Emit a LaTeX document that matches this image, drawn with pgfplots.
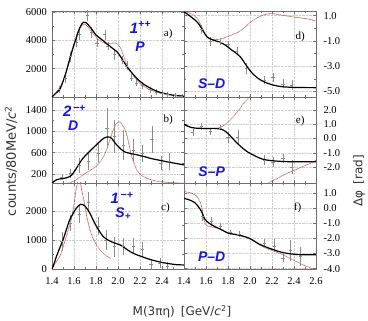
\documentclass[border=0pt]{standalone}
\usepackage{fontspec}
\setmainfont{Liberation Serif}
\newfontfamily\labfont{DejaVu Sans}
\newfontfamily\wavfont{Liberation Sans}
\usepackage{pgfplots}
\pgfplotsset{compat=1.18}
\definecolor{FitRed}{RGB}{195,95,95}
\definecolor{ErrGray}{RGB}{140,140,140}
\definecolor{FrameGray}{RGB}{110,110,110}
\definecolor{GridGray}{RGB}{205,205,205}
\definecolor{WaveBlue}{RGB}{20,20,235}

\newcommand\wav[1]{{\color{WaveBlue}\wavfont\bfseries\itshape #1}}

\pgfplotsset{
  panel/.style={
    scale only axis, width=132pt, height=86pt,
    xmin=1.4, xmax=2.6,
    xtick={1.4,1.6,1.8,2.0,2.2,2.4,2.6},
    xticklabels={},
    minor x tick num=1,
    tick align=inside,
    xtick pos=both, ytick pos=both,
    grid=major,
    major grid style={GridGray, densely dotted, line width=0.4pt},
    axis line style={FrameGray, line width=0.5pt},
    tick style={FrameGray, line width=0.4pt},
    major tick length=3pt, minor tick length=1.8pt,
    tick label style={font=\fontsize{10.5}{12}\selectfont},
    xticklabel style={yshift=-5pt},
    scaled ticks=false,
  },
  leftpanel/.style={panel, yticklabel style={xshift=-1.5pt}},
  rightpanel/.style={panel, yticklabel pos=right, ytick pos=both,
    yticklabel style={xshift=4pt}},
  fit/.style={black, line width=1.2pt, smooth},
  wave/.style={FitRed, line width=0.9pt, line cap=round,
    dash pattern=on 0.3pt off 1.1pt, smooth},
  dat/.style={ErrGray, only marks, mark=-, mark size=1.6pt,
    error bars/.cd, y dir=both, y explicit,
    error bar style={ErrGray, line width=0.5pt},
    error mark options={ErrGray, mark size=1.5pt, line width=0.5pt}},
}

\begin{document}
\begin{tikzpicture}
\path[use as bounding box] (0,0) rectangle (368pt,321pt);

% ---------- a) 1++ P
\begin{axis}[leftpanel, at={(52pt,224pt)}, anchor=south west,
  ymin=0, ymax=6070, ytick={2000,4000,6000}, yticklabels={2000,4000,6000},
  minor y tick num=1]
\addplot[wave] coordinates {
 (1.40,0)(1.45,450)(1.50,1100)(1.55,2300)(1.60,3700)(1.63,4500)(1.66,4950)
 (1.69,5150)(1.72,5000)(1.76,4600)(1.80,4250)(1.85,3900)(1.90,3750)(1.94,3800)
 (1.97,3820)(2.00,3720)(2.02,3500)(2.04,3150)(2.06,2700)(2.08,2300)(2.10,2000)
 (2.15,1400)(2.20,950)(2.25,680)(2.30,480)(2.40,250)(2.50,130)(2.60,60)};
\addplot[dat] table[y error index=2] {
1.47 550 150
1.52 1300 200
1.57 2850 250
1.62 3900 300
1.65 4400 300
1.72 5750 250
1.76 4550 250
1.81 3800 200
1.88 4400 250
1.91 3600 200
1.97 3000 250
2.04 2600 200
2.08 2200 200
2.12 1350 150
2.17 1000 150
2.22 800 120
2.29 520 100
2.35 350 100
2.40 300 80
2.45 200 80
2.52 150 60
2.58 80 50
};
\addplot[fit] coordinates {
 (1.40,0)(1.44,300)(1.47,520)(1.50,1100)(1.53,1800)(1.56,2650)(1.59,3460)
 (1.62,4150)(1.64,4640)(1.66,5000)(1.685,5280)(1.71,5250)(1.74,5000)(1.775,4640)
 (1.80,4380)(1.835,4160)(1.87,3950)(1.90,3740)(1.94,3500)(1.97,3320)(1.99,3200)
 (2.01,3000)(2.04,2650)(2.08,2160)(2.11,1850)(2.14,1580)(2.17,1330)(2.20,1100)
 (2.25,820)(2.29,640)(2.34,450)(2.38,330)(2.43,230)(2.47,165)(2.53,100)(2.60,50)};
\node[font=\fontsize{15}{15}\selectfont] at (rel axis cs:0.67,0.81) {\wav{1\textsuperscript{++}}};
\node[font=\fontsize{14}{14}\selectfont] at (rel axis cs:0.667,0.58) {\wav{P}};
\node[font=\fontsize{11}{12}\selectfont] at (rel axis cs:0.88,0.74) {a)};
\end{axis}

% ---------- b) 2-+ D
\begin{axis}[leftpanel, at={(52pt,138pt)}, anchor=south west,
  ymin=30, ymax=1645, ytick={200,600,1000,1400}, yticklabels={200,600,1000,1400},
  minor y tick num=1]
\addplot[wave] coordinates {
 (1.40,10)(1.50,18)(1.56,30)(1.62,90)(1.68,180)(1.74,260)(1.80,340)(1.85,460)
 (1.89,620)(1.92,800)(1.95,990)(1.98,1130)(2.01,1180)(2.03,1150)(2.06,1050)
 (2.08,930)(2.10,760)(2.12,560)(2.15,380)(2.17,275)(2.21,180)(2.26,120)
 (2.32,80)(2.38,55)(2.50,35)(2.60,25)};
\addplot[dat] table[y error index=2] {
1.49 140 30
1.57 210 60
1.65 360 120
1.73 430 130
1.82 590 150
1.90 1060 350
1.97 900 280
2.05 740 250
2.14 650 170
2.22 590 130
2.31 850 230
2.39 400 100
2.47 430 130
};
\addplot[fit] coordinates {
 (1.40,30)(1.44,90)(1.50,115)(1.53,125)(1.56,150)(1.58,180)(1.62,300)(1.65,400)
 (1.68,490)(1.72,580)(1.77,680)(1.82,780)(1.87,870)(1.90,895)(1.93,890)(1.95,850)
 (1.97,790)(2.00,720)(2.03,660)(2.06,615)(2.10,590)(2.17,560)(2.25,520)(2.30,490)
 (2.37,460)(2.44,430)(2.52,400)(2.60,370)};
\node[font=\fontsize{15}{15}\selectfont] at (rel axis cs:0.17,0.84) {\wav{2\textsuperscript{\,−+}}};
\node[font=\fontsize{14}{14}\selectfont] at (rel axis cs:0.16,0.67) {\wav{D}};
\node[font=\fontsize{11}{12}\selectfont] at (rel axis cs:0.88,0.73) {b)};
\end{axis}

% ---------- c) 1-+ S+
\begin{axis}[leftpanel, at={(52pt,52pt)}, anchor=south west,
  ymin=0, ymax=2965, ytick={0,1000,2000}, yticklabels={0,1000,2000},
  minor y tick num=1,
  xticklabels={1.4,1.6,1.8,2.0,2.2,2.4,}]
\addplot[wave] coordinates {
 (1.40,0)(1.43,200)(1.47,430)(1.50,750)(1.53,1120)(1.56,1500)(1.58,1800)
 (1.60,2200)(1.61,2500)(1.62,2750)(1.63,2950)(1.64,3050)(1.65,3060)(1.66,2950)
 (1.67,2730)(1.685,2450)(1.70,2150)(1.72,1750)(1.745,1350)(1.77,1080)(1.805,830)
 (1.835,670)(1.865,540)(1.90,440)(1.93,370)};
\addplot[dat] table[y error index=2] {
1.49 950 290
1.57 1580 230
1.65 1890 260
1.73 2320 290
1.82 1490 260
1.89 1000 290
1.97 770 290
2.05 770 230
2.14 800 230
2.22 680 200
2.30 150 100
2.38 200 120
2.45 110 90
};
\addplot[fit] coordinates {
 (1.40,0)(1.42,200)(1.44,430)(1.47,720)(1.50,1000)(1.53,1350)(1.56,1690)
 (1.59,1900)(1.62,2090)(1.64,2180)(1.66,2230)(1.68,2220)(1.70,2170)(1.72,2070)
 (1.745,1920)(1.77,1720)(1.805,1460)(1.835,1280)(1.865,1120)(1.90,1020)
 (1.94,940)(1.98,880)(2.02,830)(2.06,730)(2.11,600)(2.15,520)(2.20,450)
 (2.25,380)(2.29,330)(2.35,270)(2.41,220)(2.47,180)(2.53,150)(2.60,140)};
\node[font=\fontsize{15}{15}\selectfont] at (rel axis cs:0.53,0.83) {\wav{1\textsuperscript{\,−+}}};
\node[font=\fontsize{14}{14}\selectfont] at (rel axis cs:0.54,0.64) {\wav{S\textsubscript{+}}};
\node[font=\fontsize{11}{12}\selectfont] at (rel axis cs:0.86,0.71) {c)};
\end{axis}

% ---------- d) S-D
\begin{axis}[rightpanel, at={(184pt,224pt)}, anchor=south west,
  ymin=-5.45, ymax=1.37, ytick={-5,-3,-1,1}, yticklabels={-5.0,-3.0,-1.0,1.0},
  minor y tick num=1]
\addplot[wave] coordinates {
 (1.40,1.35)(1.465,1.15)(1.50,0.95)(1.53,0.65)(1.56,0.12)(1.59,-0.45)(1.61,-0.70)
 (1.63,-0.85)(1.67,-0.90)(1.71,-0.88)(1.76,-0.78)(1.80,-0.65)(1.85,-0.47)
 (1.90,-0.27)(1.95,0.05)(1.99,0.38)(2.03,0.65)(2.08,0.90)(2.12,1.05)(2.17,1.15)
 (2.22,1.15)(2.26,1.08)(2.32,1.00)(2.39,0.90)(2.45,0.83)(2.51,0.77)(2.56,0.67)
 (2.60,0.56)};
\addplot[dat] table[y error index=2] {
1.56 -0.10 0.25
1.64 -1.05 0.20
1.73 -1.10 0.10
1.80 -1.30 0.15
1.88 -1.80 0.20
1.97 -3.20 0.30
2.13 -4.10 0.20
2.21 -3.90 0.25
2.30 -4.40 0.25
2.38 -4.50 0.25
};
\addplot[fit] coordinates {
 (1.40,1.30)(1.43,1.12)(1.465,0.90)(1.50,0.65)(1.53,0.38)(1.56,0.0)(1.59,-0.45)
 (1.61,-0.68)(1.63,-0.80)(1.67,-0.95)(1.71,-1.05)(1.77,-1.30)(1.83,-1.70)
 (1.87,-1.95)(1.91,-2.25)(1.94,-2.60)(1.97,-3.00)(2.00,-3.35)(2.03,-3.65)
 (2.07,-3.95)(2.11,-4.17)(2.15,-4.33)(2.20,-4.48)(2.25,-4.58)(2.30,-4.64)
 (2.37,-4.68)(2.45,-4.70)(2.60,-4.71)};
\node[font=\fontsize{14}{14}\selectfont] at (rel axis cs:0.21,0.15) {\wav{S–D}};
\node[font=\fontsize{11}{12}\selectfont] at (rel axis cs:0.88,0.70) {d)};
\end{axis}

% ---------- e) S-P
\begin{axis}[rightpanel, at={(184pt,138pt)}, anchor=south west,
  ymin=-3.12, ymax=2.91, ytick={-2,-1,0,1,2}, yticklabels={-2.0,-1.0,0.0,1.0,2.0}]
\addplot[wave] coordinates {
 (1.40,0.95)(1.45,0.80)(1.50,0.72)(1.56,0.69)(1.62,0.68)(1.68,0.70)(1.72,0.75)
 (1.77,0.95)(1.82,1.30)(1.86,1.65)(1.90,2.00)(1.93,2.35)(1.97,2.70)(2.00,2.95)};
\addplot[wave] coordinates {
 (2.15,-3.25)(2.18,-3.05)(2.22,-2.90)(2.25,-2.80)(2.30,-2.58)(2.37,-2.33)
 (2.44,-2.10)(2.50,-1.90)(2.56,-1.70)(2.60,-1.52)};
\addplot[dat] table[y error index=2] {
1.48 0.42 0.15
1.56 0.85 0.12
1.64 0.50 0.15
1.73 0.75 0.06
1.80 0.06 0.28
1.89 0.10 0.40
2.13 -1.50 0.22
2.21 -1.65 0.22
2.30 -1.40 0.22
2.38 -2.00 0.38
};
\addplot[fit] coordinates {
 (1.40,1.00)(1.43,0.88)(1.465,0.78)(1.50,0.73)(1.56,0.71)(1.62,0.70)(1.68,0.71)
 (1.72,0.68)(1.76,0.58)(1.80,0.35)(1.84,0.02)(1.88,-0.30)(1.91,-0.52)(1.94,-0.72)
 (1.98,-0.95)(2.03,-1.16)(2.08,-1.35)(2.12,-1.46)(2.18,-1.54)(2.25,-1.59)
 (2.32,-1.62)(2.40,-1.63)(2.60,-1.63)};
\node[font=\fontsize{14}{14}\selectfont] at (rel axis cs:0.21,0.13) {\wav{S–P}};
\node[font=\fontsize{11}{12}\selectfont] at (rel axis cs:0.88,0.72) {e)};
\end{axis}

% ---------- f) P-D
\begin{axis}[rightpanel, at={(184pt,52pt)}, anchor=south west,
  ymin=-4.02, ymax=1.66, ytick={-4,-3,-2,-1,0,1},
  yticklabels={-4.0,-3.0,-2.0,-1.0,0.0,1.0},
  xticklabels={1.4,1.6,1.8,2.0,2.2,2.4,2.6}]
\addplot[wave] coordinates {
 (1.40,1.10)(1.465,1.00)(1.50,0.88)(1.53,0.65)(1.55,0.35)(1.565,-0.10)
 (1.58,-0.75)(1.60,-1.10)(1.62,-1.20)(1.66,-1.25)(1.71,-1.32)(1.77,-1.55)
 (1.83,-1.68)(1.90,-1.80)(1.99,-1.98)(2.05,-2.25)(2.11,-2.53)(2.17,-2.72)
 (2.23,-2.88)(2.30,-3.08)(2.36,-3.30)(2.42,-3.52)(2.48,-3.74)(2.54,-3.92)
 (2.60,-4.10)};
\addplot[dat] table[y error index=2] {
1.57 -0.55 0.22
1.65 -0.88 0.22
1.73 -1.20 0.10
1.82 -1.60 0.08
1.90 -1.72 0.08
2.13 -2.30 0.15
2.22 -2.50 0.33
2.30 -3.30 0.18
2.37 -2.80 0.60
2.46 -3.20 0.55
};
\addplot[fit] coordinates {
 (1.40,0.65)(1.465,0.50)(1.50,0.35)(1.53,0.10)(1.56,-0.23)(1.59,-0.73)(1.63,-1.00)
 (1.67,-1.18)(1.71,-1.32)(1.76,-1.50)(1.80,-1.65)(1.85,-1.72)(1.90,-1.78)
 (1.95,-1.88)(1.99,-1.98)(2.04,-2.18)(2.08,-2.36)(2.13,-2.52)(2.17,-2.64)
 (2.22,-2.76)(2.26,-2.86)(2.31,-2.95)(2.36,-3.01)(2.42,-3.06)(2.48,-3.08)
 (2.60,-3.08)};
\node[font=\fontsize{14}{14}\selectfont] at (rel axis cs:0.21,0.14) {\wav{P–D}};
\node[font=\fontsize{11}{12}\selectfont] at (rel axis cs:0.86,0.71) {f)};
\end{axis}

% ---------- shared axis labels
\node[rotate=90, font=\labfont\fontsize{13}{14}\selectfont, text=black!80]
  at (11pt,160pt) {counts/80MeV/{\itshape c}\textsuperscript{2}};
\node[font=\labfont\fontsize{12}{14}\selectfont, text=black!80]
  at (182pt,9pt) {M(3πη)\enspace[GeV/{\itshape c}\textsuperscript{2}]};
\node[rotate=90, font=\labfont\fontsize{12}{14}\selectfont, text=black!80]
  at (359pt,140pt) {Δφ\enspace[rad]};
\end{tikzpicture}
\end{document}
